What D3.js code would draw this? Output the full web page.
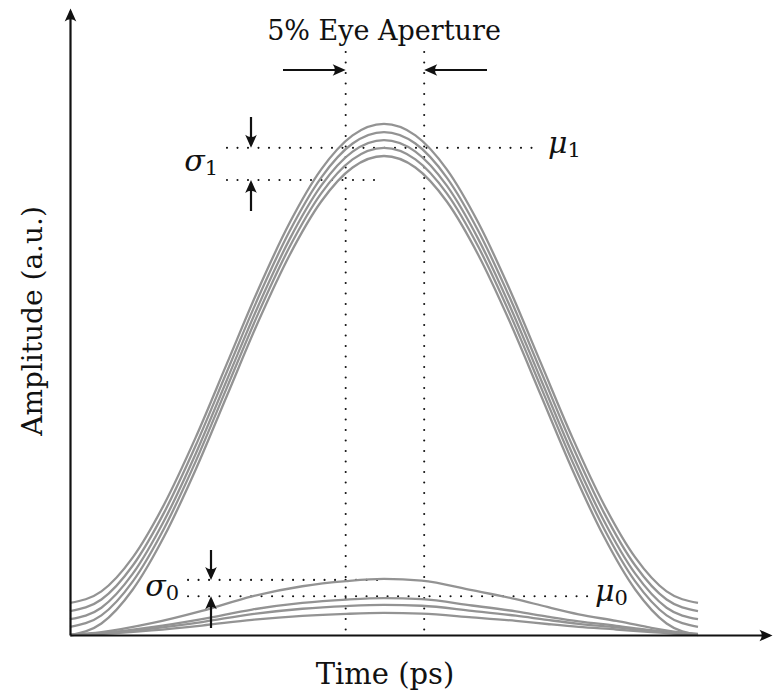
<!DOCTYPE html>
<html>
<head>
<meta charset="utf-8">
<script src="https://cdn.jsdelivr.net/npm/d3@7"></script>
<style>
    body { margin: 0; background: #fff; }
    svg { display: block; }
    svg text { font-family: "DejaVu Serif", "Liberation Serif", serif; }
</style>
</head>
<body>
<script>
const width = 773;
const height = 698;

// normalised pulse for the "one" level (time 0..1, amplitude 0..1)
const oneTime = [0, 0.05, 0.1, 0.15, 0.2, 0.25, 0.3, 0.35, 0.4, 0.45, 0.5,
    0.55, 0.6, 0.65, 0.7, 0.75, 0.8, 0.85, 0.9, 0.95, 1];
const oneShape = [0, 0.024, 0.095, 0.206, 0.345, 0.5, 0.655, 0.794, 0.905, 0.976, 1,
    0.976, 0.905, 0.794, 0.655, 0.5, 0.345, 0.206, 0.095, 0.024, 0];
// vertical offsets of the five "one" traces
const oneOffsets = [0.067, 0.050, 0.033, 0.017, 0];

// normalised bump for the "zero" level
const zeroTime = [0, 0.05, 0.13, 0.21, 0.29, 0.37, 0.44, 0.5, 0.56, 0.64, 0.71,
    0.76, 0.81, 0.87, 0.92, 0.97, 1];
const zeroShape = [0, 0.05, 0.21, 0.43, 0.69, 0.87, 0.96, 1, 0.97, 0.80, 0.64,
    0.50, 0.37, 0.25, 0.14, 0.05, 0.02];
// peak heights of the four "zero" traces
const zeroPeaks = [0.117, 0.077, 0.063, 0.046];

// statistics / annotation levels (a.u.)
const mu1 = 1.017;
const sigma1Low = 0.95;
const mu0 = 0.081;
const sigma0High = 0.115;
const eyeEdges = [0.439, 0.564];

const x = d3.scaleLinear().domain([0, 1]).range([70, 698]);
const y = d3.scaleLinear().domain([0, 1]).range([635, 156]);

const svg = d3.select('body').append('svg')
    .attr('width', width)
    .attr('height', height);

const defs = svg.append('defs');
defs.append('marker')
    .attr('id', 'tip')
    .attr('markerUnits', 'userSpaceOnUse')
    .attr('viewBox', '-15 -8 16 16')
    .attr('markerWidth', 16)
    .attr('markerHeight', 16)
    .attr('refX', -3)
    .attr('refY', 0)
    .attr('orient', 'auto')
    .append('path')
    .attr('d', 'M0,0 L-13,-5.8 Q-8.5,0 -13,5.8 Z')
    .attr('fill', '#111');

const g = svg.append('g');

// dotted guides
function dotted(x1, y1, x2, y2) {
    g.append('line')
        .attr('x1', x1).attr('y1', y1)
        .attr('x2', x2).attr('y2', y2)
        .attr('stroke', '#111')
        .attr('stroke-width', 2.1)
        .attr('stroke-linecap', 'round')
        .attr('stroke-dasharray', '0 10.5');
}

eyeEdges.forEach(t => dotted(x(t), 52, x(t), 634));
dotted(x(0.25), y(mu1), x(0.75), y(mu1));
dotted(x(0.25), y(sigma1Low), x(0.49), y(sigma1Low));
dotted(x(0.188), y(mu0), x(0.828), y(mu0));
dotted(x(0.188), y(sigma0High), x(0.49), y(sigma0High));

// traces
const line = d3.line()
    .x(d => x(d[0]))
    .y(d => y(d[1]))
    .curve(d3.curveMonotoneX);

const traces = g.append('g')
    .attr('fill', 'none')
    .attr('stroke', '#939393')
    .attr('stroke-width', 2.3);

traces.selectAll('path.one')
    .data(oneOffsets)
    .enter()
    .append('path')
    .attr('class', 'one')
    .attr('d', off => line(oneTime.map((t, i) => [t, oneShape[i] + off])));

traces.selectAll('path.zero')
    .data(zeroPeaks)
    .enter()
    .append('path')
    .attr('class', 'zero')
    .attr('d', pk => line(zeroTime.map((t, i) => [t, zeroShape[i] * pk])));

// axes (no ticks, arrow ends)
const xAxisScale = d3.scaleLinear().domain([0, x.invert(769)]).range([70, 769]);
const yAxisScale = d3.scaleLinear().domain([0, y.invert(11)]).range([635, 11]);

g.append('g')
    .attr('transform', 'translate(0,635)')
    .call(d3.axisBottom(xAxisScale).ticks(0).tickSizeOuter(0))
    .select('.domain')
    .attr('stroke', '#111')
    .attr('stroke-width', 2.2)
    .attr('marker-end', 'url(#tip)');

g.append('g')
    .attr('transform', 'translate(70,0)')
    .call(d3.axisLeft(yAxisScale).ticks(0).tickSizeOuter(0))
    .select('.domain')
    .attr('stroke', '#111')
    .attr('stroke-width', 2.2)
    .attr('marker-end', 'url(#tip)');

// annotation arrows: line ends 3px short of the tip
function arrow(x1, y1, x2, y2) {
    const dx = x2 - x1, dy = y2 - y1;
    const len = Math.hypot(dx, dy);
    g.append('line')
        .attr('x1', x1).attr('y1', y1)
        .attr('x2', x2 - dx / len * 3).attr('y2', y2 - dy / len * 3)
        .attr('stroke', '#111')
        .attr('stroke-width', 2.2)
        .attr('marker-end', 'url(#tip)');
}

const eyeY = 70;
arrow(283, eyeY, x(eyeEdges[0]), eyeY);
arrow(487, eyeY, x(eyeEdges[1]), eyeY);

const s1x = 251;
arrow(s1x, 117, s1x, y(mu1));
arrow(s1x, 211, s1x, y(sigma1Low));

const s0x = 211;
arrow(s0x, 550, s0x, y(sigma0High));
arrow(s0x, 628, s0x, y(mu0));

// labels
function label(px, py, str, size, rotate) {
    return g.append('text')
        .attr('transform', `translate(${px},${py})` + (rotate ? ' rotate(-90)' : ''))
        .attr('text-anchor', 'middle')
        .style('font-size', size + 'px')
        .style('fill', '#111')
        .text(str);
}

label(384, 40, '5% Eye Aperture', 27);
label(385, 684, 'Time (ps)', 29);
label(42, 321, 'Amplitude (a.u.)', 28, true);

function symbol(px, py, letter, sub, anchor) {
    const t = g.append('text')
        .attr('x', px).attr('y', py)
        .attr('text-anchor', anchor)
        .style('fill', '#111');
    t.append('tspan')
        .style('font-style', 'italic')
        .style('font-size', '30px')
        .text(letter);
    t.append('tspan')
        .attr('dy', 4)
        .style('font-size', '21px')
        .text(sub);
}

symbol(218, 171, 'σ', '1', 'end');
symbol(548, 153, 'μ', '1', 'start');
symbol(179, 596, 'σ', '0', 'end');
symbol(595, 601, 'μ', '0', 'start');
</script>
</body>
</html>
